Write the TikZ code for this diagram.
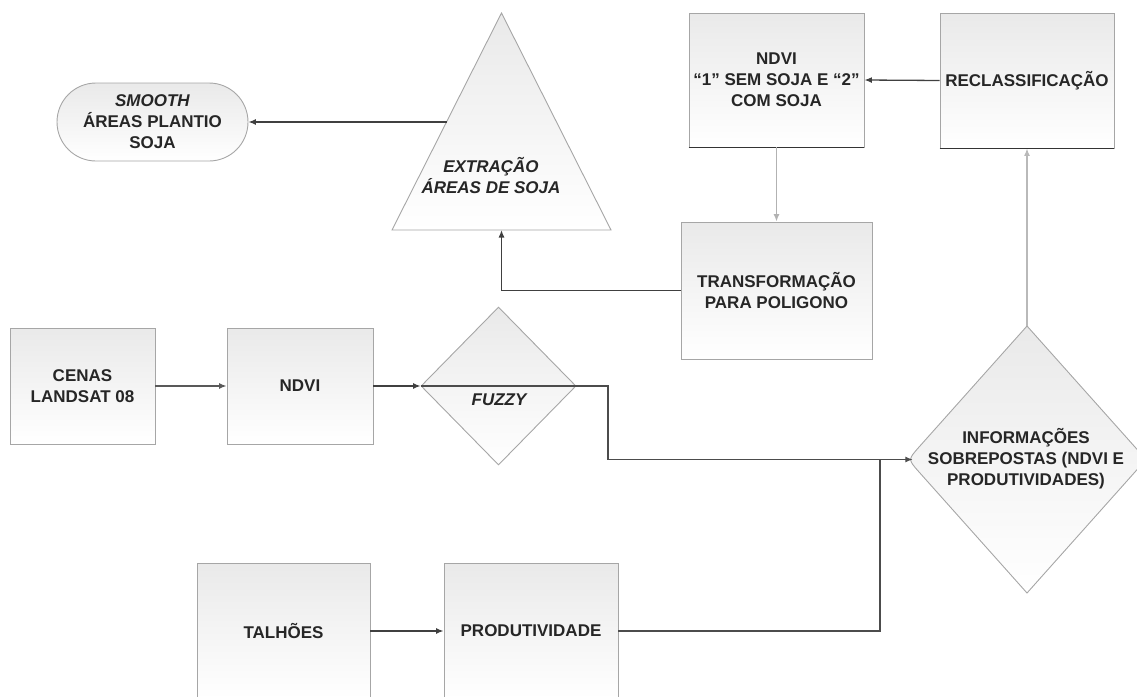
\documentclass[tikz,border=0pt]{standalone}
\usepackage{fontspec}
\setmainfont{Liberation Sans}
\usetikzlibrary{shapes.geometric,shapes.misc,arrows.meta}
\begin{document}
\begin{tikzpicture}[x=1pt,y=-1pt,
  txt/.style={font=\fontsize{17}{21}\selectfont\bfseries, text=black!85, align=center},
  shapefill/.style={draw=gray!70, line width=0.9pt, top color=gray!17, bottom color=white},
  boxnode/.style={rectangle, shapefill, txt, inner sep=0pt},
  conn/.style={line width=1.3pt, draw=black!75},
  arr/.style={conn, -{Latex[length=7.5pt,width=6pt]}},
  darkedge/.style={draw=black!80, line width=1.4pt}
]
\useasboundingbox (0,0) rectangle (1137,696);
\clip (0,0) rectangle (1137,696);

% boxes
\node[boxnode, minimum width=145pt, minimum height=116pt] (cenas) at (82.5,386) {CENAS\\LANDSAT 08};
\node[boxnode, minimum width=146pt, minimum height=116pt] (ndvi) at (300,386) {NDVI};
\node[boxnode, minimum width=175pt, minimum height=134pt] (ndvi1) at (776.5,80) {NDVI\\``1'' SEM SOJA E ``2''\\COM SOJA};
\node[boxnode, minimum width=174pt, minimum height=135pt] (reclass) at (1027,80.5) {RECLASSIFICAÇÃO};
\node[boxnode, minimum width=191pt, minimum height=137pt] (transf) at (776.5,290.5) {TRANSFORMAÇÃO\\PARA POLIGONO};
\node[boxnode, minimum width=173pt, minimum height=136pt] (talhoes) at (283.5,631) {TALHÕES};
\node[boxnode, minimum width=174pt, minimum height=136pt] (produt) at (531,631) {PRODUTIVIDADE};
\draw[darkedge] (ndvi1.south west) -- (ndvi1.south east);
\draw[darkedge] (reclass.south west) -- (reclass.south east);

% smooth
\node[rounded rectangle, shapefill, txt, inner sep=0pt, minimum width=191pt, minimum height=78pt] (smooth) at (152.5,122) {\textit{SMOOTH}\\ÁREAS PLANTIO\\SOJA};

% triangle
\draw[shapefill] (501.5,13) -- (611,230) -- (392,230) -- cycle;
\node[txt, font=\fontsize{17}{21}\selectfont\bfseries\itshape] (tri) at (491,176) {EXTRAÇÃO\\ÁREAS DE SOJA};
\coordinate (trib) at (501.5,230);
\coordinate (tril) at (446.5,122);

% fuzzy diamond
\node[diamond, shapefill, inner sep=0pt, minimum width=155pt, minimum height=158pt] (fuzzy) at (498.5,386) {};
\node[txt, font=\fontsize{17}{21}\selectfont\bfseries\itshape] (fuzzytxt) at (499,400) {FUZZY};

% info diamond (left and right corners rounded)
\node[diamond, inner sep=0pt, minimum width=238pt, minimum height=267pt] (info) at (1027,459.5) {};
\draw[shapefill] (1027,326) -- (918.6,447.5) .. controls (908,459.5) .. (918.6,471.5)
  -- (1027,593) -- (1135.4,471.5) .. controls (1146,459.5) .. (1135.4,447.5) -- cycle;
\node[txt] (infotxt) at (1026,459) {INFORMAÇÕES\\SOBREPOSTAS (NDVI E\\PRODUTIVIDADES)};

\coordinate (fz) at (608,386);
\coordinate (jn) at (880,459.5);

% connectors
\draw[arr, draw=gray!70!black] (cenas.east) -- (ndvi.west);
\draw[arr] (ndvi.east) -- (fuzzy.west);
\draw[arr, draw=gray!60!black] (fuzzy.west) -- (fuzzy.east) -- (fz) |- ([xshift=5pt]info.west);
\draw[arr] (talhoes.east) -- (produt.west);
\draw[conn, draw=gray!60!black] (produt.east) -| (jn);
\draw[arr, draw=gray!55] (info.north) -- (reclass.south);
\draw[arr] (reclass.west) -- (ndvi1.east);
\draw[arr, draw=gray!60] (ndvi1.south) -- (transf.north);
\draw[arr] (transf.west) -| (trib);
\draw[arr] (tril) -- (smooth.east);
\end{tikzpicture}
\end{document}
